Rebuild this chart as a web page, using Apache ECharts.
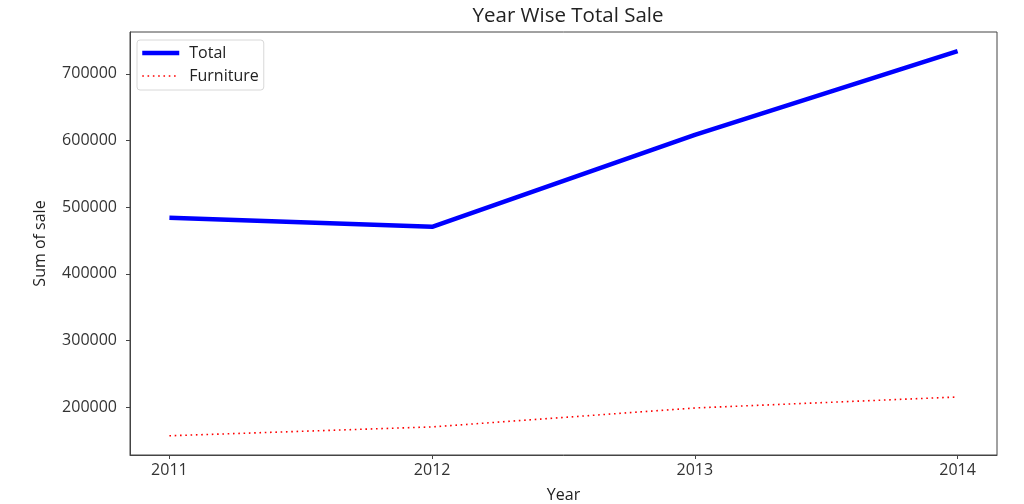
<!DOCTYPE html>
<html>
<head>
<meta charset="utf-8">
<script src="https://cdn.jsdelivr.net/npm/echarts@6/dist/echarts.min.js"></script>
<style>html,body{margin:0;padding:0;background:#fff;}#c{width:1024px;height:504px;}</style>
</head>
<body>
<div id="c"></div>
<script>
const years = [2011, 2012, 2013, 2014];
const totalSales = [484247, 470533, 608473, 733947];
const furnitureSales = [157193, 170518, 198901, 215387];
const yTicks = [200000, 300000, 400000, 500000, 600000, 700000];

const chart = echarts.init(document.getElementById('c'));
const font = 'Open Sans';
chart.setOption({
  animation: false,
  backgroundColor: '#fff',
  title: {
    text: 'Year Wise Total Sale',
    left: 563, top: 1, textAlign: 'center',
    textStyle: { fontFamily: font, fontSize: 20.5, fontWeight: 'normal', color: '#222' }
  },
  legend: {
    orient: 'vertical',
    left: 137, top: 40,
    itemWidth: 37, itemHeight: 14, itemGap: 7,
    padding: [5, 5, 6, 3],
    borderColor: '#d8d8d8', borderWidth: 1, borderRadius: 3,
    backgroundColor: '#fff',
    itemStyle: { opacity: 0 },
    textStyle: { fontFamily: font, fontSize: 16, color: '#222', padding: [0, 0, 0, 5] },
    data: [
      { name: 'Total', lineStyle: { width: 4.5, color: '#0000ff' } },
      { name: 'Furniture', lineStyle: { width: 1.6, color: '#ff0000', type: [1.6, 3.7] } }
    ]
  },
  grid: { left: 130, right: 27, top: 32, bottom: 49, show: true, borderColor: '#444', borderWidth: 1,
    outerBoundsMode: 'none', containLabel: false },
  xAxis: {
    type: 'value', min: 2010.85, max: 2014.15,
    name: 'Year', nameLocation: 'middle', nameGap: 32,
    nameTextStyle: { fontFamily: font, fontSize: 16, color: '#222' },
    axisLine: { show: true, lineStyle: { color: '#444' } },
    axisTick: { show: true, customValues: years, length: 4, lineStyle: { color: '#444' } },
    axisLabel: { customValues: years, fontFamily: font, fontSize: 16, color: '#333', margin: 7,
      formatter: v => String(v) },
    splitLine: { show: false }
  },
  yAxis: {
    type: 'value', min: 128355, max: 762785,
    name: 'Sum of sale', nameLocation: 'middle', nameGap: 82,
    nameTextStyle: { fontFamily: font, fontSize: 16, color: '#222' },
    axisLine: { show: true, lineStyle: { color: '#444' } },
    axisTick: { show: true, customValues: yTicks, length: 4, lineStyle: { color: '#444' } },
    axisLabel: { customValues: yTicks, fontFamily: font, fontSize: 16, color: '#333', margin: 13,
      formatter: v => String(v) },
    splitLine: { show: false }
  },
  series: [
    {
      name: 'Total', type: 'line', symbol: 'none',
      data: years.map((y, i) => [y, totalSales[i]]),
      lineStyle: { color: '#0000ff', width: 4.5 },
      itemStyle: { color: '#0000ff' }
    },
    {
      name: 'Furniture', type: 'line', symbol: 'none',
      data: years.map((y, i) => [y, furnitureSales[i]]),
      lineStyle: { color: '#ff0000', width: 1.6, type: [1.6, 3.7] },
      itemStyle: { color: '#ff0000' }
    }
  ]
});
</script>
</body>
</html>
